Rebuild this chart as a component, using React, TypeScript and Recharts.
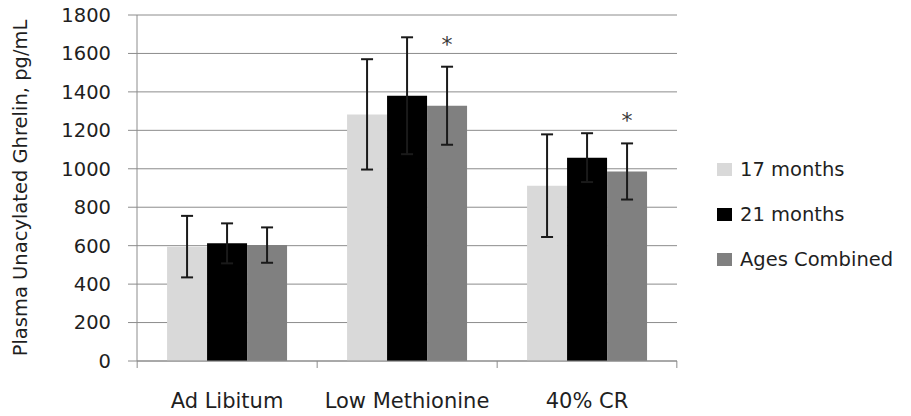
import { Bar, BarChart, CartesianGrid, ErrorBar, LabelList, XAxis, YAxis } from "recharts";

const categories = ["Ad Libitum", "Low Methionine", "40% CR"];
const months17 = [595, 1283, 912];
const months17Err = [160, 287, 267];
const months21 = [612, 1380, 1058];
const months21Err = [104, 304, 127];
const combined = [603, 1328, 986];
const combinedErr = [92, 203, 146];
const significance = ["", "*", "*"];
const yTicks = [0, 200, 400, 600, 800, 1000, 1200, 1400, 1600, 1800];

const series = [
  { key: "m17", err: "m17Err", name: "17 months", color: "#d9d9d9" },
  { key: "m21", err: "m21Err", name: "21 months", color: "#000000" },
  { key: "comb", err: "combErr", name: "Ages Combined", color: "#808080" },
];

const data = categories.map((name, i) => ({
  name,
  m17: months17[i],
  m17Err: months17Err[i],
  m21: months21[i],
  m21Err: months21Err[i],
  comb: combined[i],
  combErr: combinedErr[i],
  sig: significance[i],
}));

const FONT = "'DejaVu Sans', sans-serif";
const GRID = "#8c8c8c";
const TEXT = "#1f1f1f";

function CategoryTick(props: any) {
  const { x, y, payload, index, visibleTicksCount } = props;
  const band = 539 / categories.length;
  const left = x - band / 2;
  return (
    <g>
      <line x1={left} y1={y} x2={left} y2={y + 7} stroke={GRID} />
      {index === visibleTicksCount - 1 && (
        <line x1={left + band} y1={y} x2={left + band} y2={y + 7} stroke={GRID} />
      )}
      <text x={x} y={y + 47} textAnchor="middle" fontSize={21} fill={TEXT} fontFamily={FONT}>
        {payload.value}
      </text>
    </g>
  );
}

function StarLabel(props: any) {
  const { x, y, width, height, value, index } = props;
  if (!value) return null;
  const perUnit = height / combined[index];
  const top = y - combinedErr[index] * perUnit;
  return (
    <text x={x + width / 2} y={top - 15} textAnchor="middle" fontSize={22} fill="#3a3a3a" fontFamily={FONT}>
      {value}
    </text>
  );
}

function LegendBox() {
  return (
    <div
      style={{
        position: "absolute",
        left: 717,
        top: 147,
        fontFamily: FONT,
        fontSize: 19.5,
        color: TEXT,
      }}
    >
      {series.map((s) => (
        <div key={s.key} style={{ display: "flex", alignItems: "center", height: 45 }}>
          <span style={{ width: 15, height: 13, background: s.color, marginRight: 8, display: "inline-block" }} />
          {s.name}
        </div>
      ))}
    </div>
  );
}

export default function App() {
  return (
    <div style={{ position: "absolute", left: 0, top: 0, width: 911, height: 416, background: "#fff" }}>
      <BarChart
        width={911}
        height={416}
        data={data}
        margin={{ top: 15, right: 234, bottom: 25, left: 0 }}
        barCategoryGap="16.7%"
        barGap={0}
      >
        <CartesianGrid vertical={false} stroke={GRID} />
        <XAxis
          dataKey="name"
          height={30}
          axisLine={{ stroke: GRID }}
          tickLine={false}
          tickSize={0}
          tickMargin={0}
          interval={0}
          tick={<CategoryTick />}
        />
        <YAxis
          width={137}
          domain={[0, 1800]}
          ticks={yTicks}
          interval={0}
          axisLine={{ stroke: GRID }}
          tickLine={{ stroke: GRID }}
          tickSize={9}
          tickMargin={17}
          tick={{ fontSize: 19.5, fill: TEXT, fontFamily: FONT }}
          label={{
            value: "Plasma Unacylated Ghrelin, pg/mL",
            angle: -90,
            position: "insideLeft",
            dx: 15,
            dy: 0,
            style: { textAnchor: "middle", fontSize: 19.5, fill: TEXT, fontFamily: FONT },
          }}
        />
        {series.map((s) => (
          <Bar key={s.key} dataKey={s.key} name={s.name} fill={s.color} isAnimationActive={false}>
            <ErrorBar dataKey={s.err} width={6} strokeWidth={2} stroke="#1a1a1a" />
            {s.key === "comb" && <LabelList dataKey="sig" content={<StarLabel />} />}
          </Bar>
        ))}
      </BarChart>
      <LegendBox />
    </div>
  );
}
